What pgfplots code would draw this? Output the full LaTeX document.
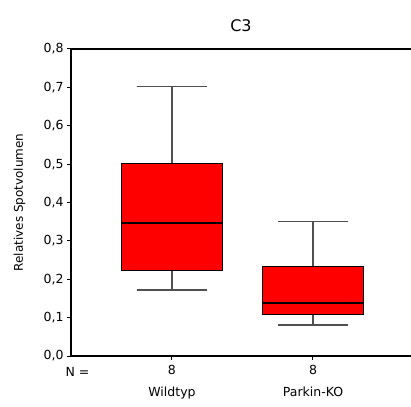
\documentclass[border=0pt]{standalone}
\usepackage{fontspec}
\setmainfont{DejaVu Sans}
\usepackage{pgfplots}
\pgfplotsset{compat=1.18}
\usepgfplotslibrary{statistics}

\definecolor{boxred}{RGB}{255,0,0}
\definecolor{whisk}{RGB}{80,80,80}

\begin{document}
\begin{tikzpicture}
\path[use as bounding box] (0,0) rectangle (411pt,406pt);
\begin{axis}[
  at={(71pt,50pt)}, anchor=south west,
  scale only axis,
  width=340pt, height=307pt,
  xmin=0.284, xmax=2.695,
  ymin=0, ymax=0.8,
  axis x line=box, axis y line*=left,
  axis line style={black, line width=1.3pt, -},
  ytick={0,0.1,...,0.8},
  yticklabel style={font=\fontsize{12.5}{14}\selectfont,
    /pgf/number format/.cd, fixed, fixed zerofill, precision=1, use comma, assume math mode=true},
  xtick={1,2},
  xticklabels={{8\\[8pt]Wildtyp},{8\\[8pt]Parkin-KO}},
  xticklabel style={align=center, font=\fontsize{12.5}{14}\selectfont, yshift=-2pt},
  extra x ticks={0.33},
  extra x tick labels={N =},
  extra x tick style={major tick length=0pt, xticklabel style={yshift=-6pt}},
  tick align=outside,
  major tick length=4pt,
  tick style={black, line width=1pt},
  xtick pos=bottom, ytick pos=left,
  ylabel={Relatives Spotvolumen},
  ylabel style={font=\fontsize{12}{14}\selectfont, at={(rel axis cs:0,0.5)}, yshift=42pt},
  title={C3},
  title style={font=\fontsize{16}{18}\selectfont, at={(rel axis cs:0.5,1)}, yshift=8pt},
  boxplot/draw direction=y,
  boxplot/box extend=0.71,
  boxplot/whisker extend=0.5,
  clip=false,
]
\addplot[fill=boxred, draw=black, line width=1pt,
  boxplot prepared={draw position=1, lower whisker=0.172, lower quartile=0.224,
    median=0.346, upper quartile=0.502, upper whisker=0.702},
  boxplot/every whisker/.style={draw=whisk, line width=1.4pt},
  boxplot/every median/.style={draw=black, line width=1.8pt}]
  coordinates {};
\addplot[fill=boxred, draw=black, line width=1pt,
  boxplot prepared={draw position=2, lower whisker=0.081, lower quartile=0.107,
    median=0.138, upper quartile=0.233, upper whisker=0.350},
  boxplot/every whisker/.style={draw=whisk, line width=1.4pt},
  boxplot/every median/.style={draw=black, line width=1.8pt}]
  coordinates {};
\end{axis}
\end{tikzpicture}
\end{document}
